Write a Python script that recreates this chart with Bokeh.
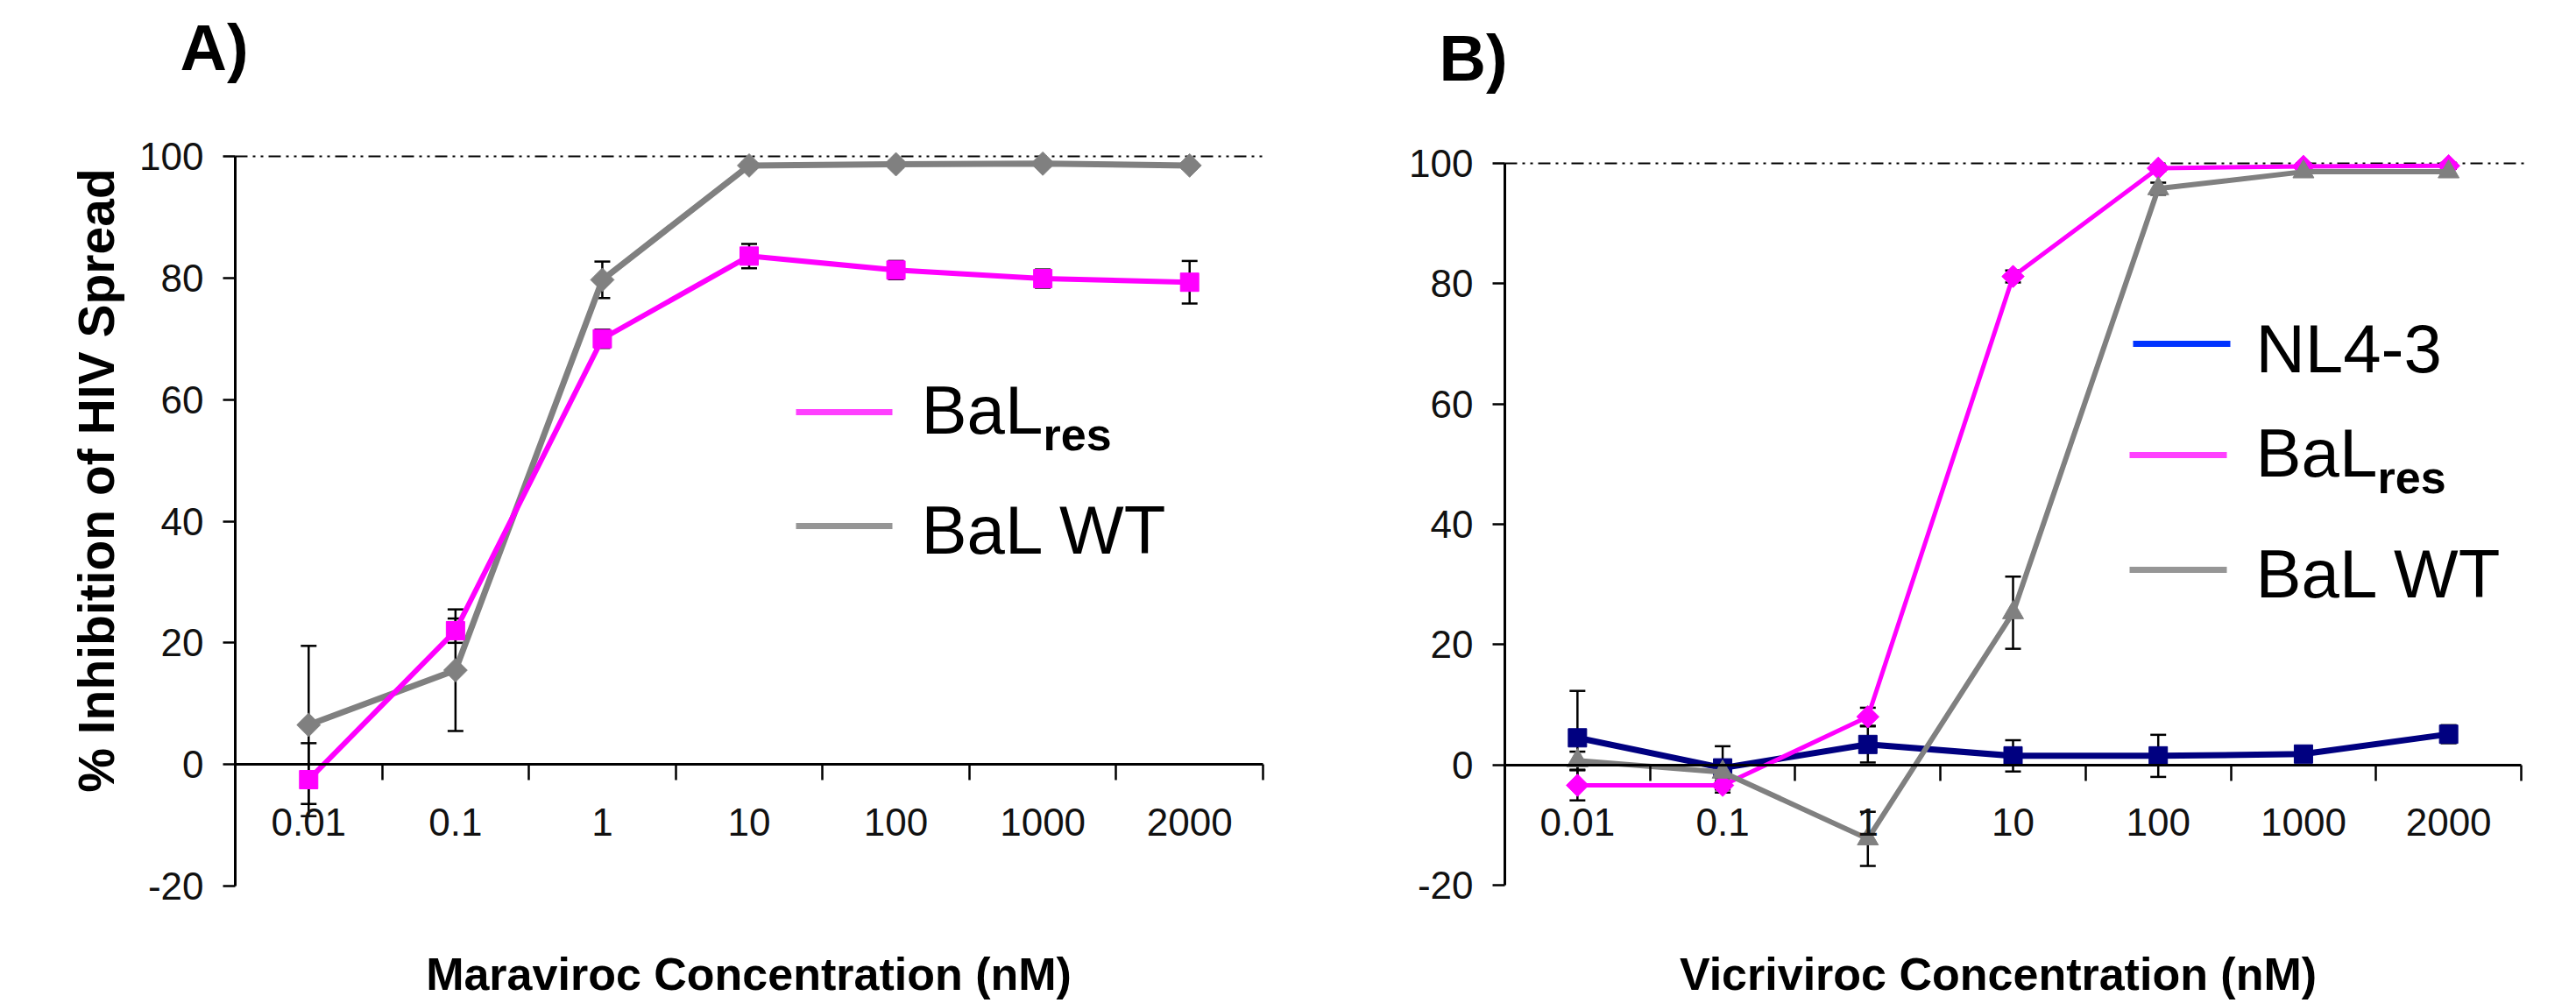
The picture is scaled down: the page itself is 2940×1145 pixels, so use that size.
import math
from bokeh.plotting import figure
from bokeh.models import (ColumnDataSource, Whisker, TeeHead, FixedTicker, Range1d)
from bokeh.layouts import row
from bokeh.embed import file_html
from bokeh.resources import INLINE
from bokeh.core.properties import value

# ---------------- data ----------------
conc_labels = ["0.01", "0.1", "1", "10", "100", "1000", "2000"]
y_ticks = [-20, 0, 20, 40, 60, 80, 100]
y_tick_labels = ["-20", "0", "20", "40", "60", "80", "100"]

# Panel A: Maraviroc
a_balres = [-2.5, 22.0, 70.0, 83.6, 81.3, 79.9, 79.3]
a_balres_err = [6.0, 2.0, 1.5, 2.0, 1.5, 1.5, 3.5]
a_balwt = [6.5, 15.5, 79.7, 98.5, 98.7, 98.8, 98.5]
a_balwt_err = [13.0, 10.0, 3.0, 0.5, 0.5, 0.5, 0.5]

# Panel B: Vicriviroc
b_nl43 = [4.5, -0.5, 3.4, 1.5, 1.5, 1.8, 5.1]
b_nl43_err = [7.8, 3.6, 3.0, 2.6, 3.5, 1.0, 1.5]
b_balres = [-3.4, -3.4, 8.0, 81.2, 99.2, 99.5, 99.6]
b_balres_err = [2.5, 1.2, 1.5, 1.0, 0.5, 0.5, 0.5]
b_balwt = [0.7, -1.2, -12.3, 25.3, 95.8, 98.6, 98.6]
b_balwt_err = [1.5, 1.5, 4.5, 6.0, 1.0, 0.5, 0.5]

# ---------------- style / layout ----------------
MAGENTA = "#FF00FF"
GRAY = "#808080"
NAVY = "#000080"
LEG_MAGENTA = "#FF40FF"
LEG_GRAY = "#969696"
LEG_BLUE = "#0033FF"
SANS = "Liberation Sans"
TXT_SHIFT = 0.33   # baseline correction, in em

FIG_H = 1145
TOP = 0
# axis geometry in reference pixels: x of category edges 0 and 7, y of 100 and -20
GEOM = {"A": dict(x0=268, x7=1441, y100=178, ym20=1011, left=0, width=1461),
        "B": dict(x0=1717, x7=2877, y100=186, ym20=1010, left=1461, width=1479)}


def gx(panel, X):
    g = GEOM[panel]
    return (X - g["x0"]) * 7.0 / (g["x7"] - g["x0"])


def gy(panel, Y):
    g = GEOM[panel]
    return 100.0 - (Y - g["y100"]) * 120.0 / (g["ym20"] - g["y100"])


xs = [i + 0.5 for i in range(len(conc_labels))]


def make_fig(panel):
    g = GEOM[panel]
    xr = Range1d(gx(panel, g["left"]), gx(panel, g["left"] + g["width"]))
    yr = Range1d(gy(panel, TOP + FIG_H), gy(panel, TOP))
    p = figure(width=g["width"], height=FIG_H, x_range=xr, y_range=yr,
               output_backend="svg", toolbar_location=None, min_border=0)
    p.xgrid.visible = False
    p.ygrid.visible = False
    p.outline_line_color = None
    p.background_fill_color = "white"
    p.border_fill_color = "white"

    yax = p.yaxis[0]
    yax.fixed_location = 0
    yax.ticker = FixedTicker(ticks=y_ticks)
    yax.major_label_overrides = {t: lab for t, lab in zip(y_ticks, y_tick_labels)}
    yax.bounds = (-20, 100)
    yax.axis_line_color = "black"
    yax.axis_line_width = 3
    yax.major_tick_out = 14
    yax.major_tick_in = 0
    yax.major_tick_line_width = 2.5
    yax.major_tick_line_color = "black"
    yax.minor_tick_line_color = None
    yax.major_label_text_font = SANS
    yax.major_label_text_font_size = "44px"
    yax.major_label_text_color = "#111111"
    yax.major_label_standoff = 22

    xax = p.xaxis[0]
    xax.fixed_location = 0
    xax.bounds = (0, 7)
    xax.ticker = FixedTicker(ticks=xs, minor_ticks=list(range(len(conc_labels) + 1)))
    xax.major_label_overrides = {x: lab for x, lab in zip(xs, conc_labels)}
    xax.major_tick_out = 0
    xax.major_tick_in = 0
    xax.major_tick_line_color = None
    xax.minor_tick_out = 18
    xax.minor_tick_in = 0
    xax.minor_tick_line_width = 2.5
    xax.minor_tick_line_color = "black"
    xax.axis_line_color = "black"
    xax.axis_line_width = 3
    xax.major_label_text_font = SANS
    xax.major_label_text_font_size = "44px"
    xax.major_label_text_color = "#111111"
    xax.major_label_standoff = 32

    # dash-dot reference line at 100 %
    p.segment(x0=[0], y0=[100], x1=[7.03], y1=[100], line_color="black",
              line_width=2, line_dash="14 6 3 6 3 6")
    return p


def add_series(p, vals, errs, color, marker, msize, lw, angle=0.0):
    src = ColumnDataSource(dict(x=xs, y=vals,
                                upper=[v + e for v, e in zip(vals, errs)],
                                lower=[v - e for v, e in zip(vals, errs)]))
    p.add_layout(Whisker(source=src, base="x", upper="upper", lower="lower",
                         line_color="black", line_width=2.5,
                         upper_head=TeeHead(size=18, line_width=2.5, line_color="black"),
                         lower_head=TeeHead(size=18, line_width=2.5, line_color="black")))
    p.line("x", "y", source=src, line_color=color, line_width=lw)
    p.scatter("x", "y", source=src, marker=marker, size=msize, angle=angle,
              fill_color=color, line_color=color)


def put_text(p, panel, X, Y, text, size, bold=False, align="left", angle=0.0, x_offset=0):
    """X, Y: left/centre and baseline of the text in reference pixels."""
    if angle:
        X = X - TXT_SHIFT * size
    else:
        Y = Y - TXT_SHIFT * size
    p.text(x=[gx(panel, X)], y=[gy(panel, Y)], text=[text], angle=angle, x_offset=x_offset,
           text_font=value(SANS), text_font_size=value(f"{size}px"),
           text_font_style="bold" if bold else "normal",
           text_color="black", text_align=align, text_baseline="alphabetic")


def legend_item(p, panel, color, lx0, lx1, ly, tx, tbase, main, sub=None, sub_dx=0, sub_base=None):
    p.segment(x0=[gx(panel, lx0)], y0=[gy(panel, ly)], x1=[gx(panel, lx1)], y1=[gy(panel, ly)],
              line_color=color, line_width=7)
    put_text(p, panel, tx, tbase, main, 78)
    if sub:
        put_text(p, panel, tx, sub_base, sub, 52, bold=True, x_offset=sub_dx)


# ---------------- Panel A ----------------
pA = make_fig("A")
add_series(pA, a_balwt, a_balwt_err, GRAY, "square", 19, 7, math.pi / 4)
add_series(pA, a_balres, a_balres_err, MAGENTA, "square", 21, 6)

legend_item(pA, "A", LEG_MAGENTA, 908, 1018, 470, 1051, 493, "BaL", "res", 139, 513)
legend_item(pA, "A", LEG_GRAY, 908, 1018, 600, 1051, 630, "BaL WT")

put_text(pA, "A", 205, 78, "A)", 74, bold=True)
put_text(pA, "A", 128, 548, "% Inhibition of HIV Spread", 57, bold=True, align="center",
         angle=math.pi / 2)
put_text(pA, "A", 854, 1129, "Maraviroc Concentration (nM)", 52, bold=True, align="center")

# ---------------- Panel B ----------------
pB = make_fig("B")
add_series(pB, b_nl43, b_nl43_err, NAVY, "square", 21, 7)
add_series(pB, b_balres, b_balres_err, MAGENTA, "square", 18, 5, math.pi / 4)
add_series(pB, b_balwt, b_balwt_err, GRAY, "triangle", 24, 6)

legend_item(pB, "B", LEG_BLUE, 2434, 2545, 392, 2574, 423, "NL4-3")
legend_item(pB, "B", LEG_MAGENTA, 2430, 2541, 519, 2574, 542, "BaL", "res", 139, 562)
legend_item(pB, "B", LEG_GRAY, 2430, 2541, 650, 2574, 680, "BaL WT")

put_text(pB, "B", 1642, 90, "B)", 74, bold=True)
put_text(pB, "B", 2280, 1129, "Vicriviroc Concentration (nM)", 52, bold=True, align="center")

layout = row(pA, pB)
open("out.html", "w").write(file_html(layout, INLINE))
